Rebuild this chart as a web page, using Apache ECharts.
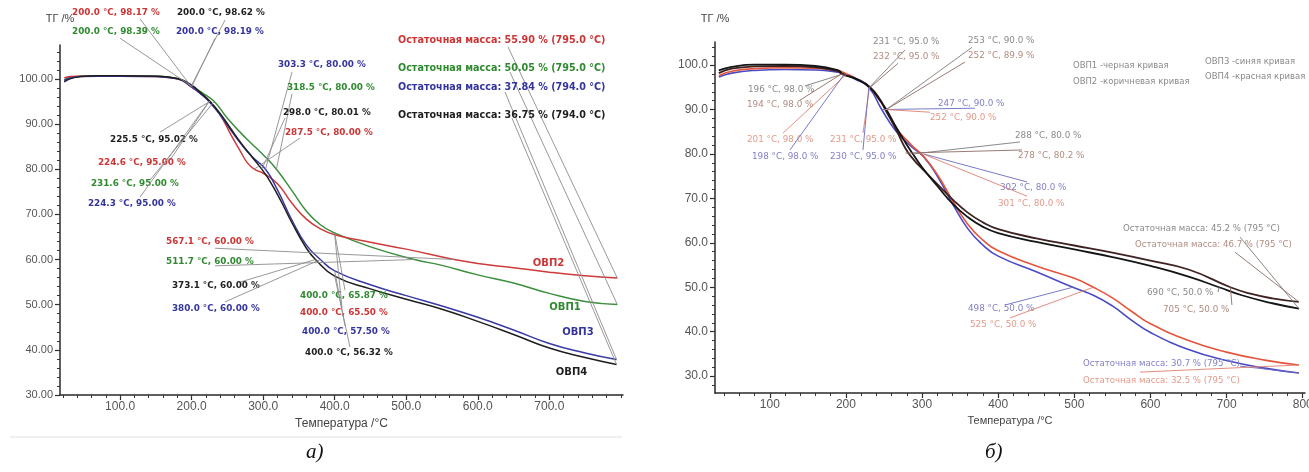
<!DOCTYPE html>
<html><head><meta charset="utf-8">
<script src="https://cdn.jsdelivr.net/npm/echarts@6/dist/echarts.min.js"></script>
<style>html,body{margin:0;padding:0;background:#fff}#c{width:1309px;height:472px}</style>
</head><body><div id="c"></div>
<script>
// ---------- Panel a) data ----------
const aTicksX = [100, 200, 300, 400, 500, 600, 700];
const aTicksY = [30, 40, 50, 60, 70, 80, 90, 100];

const aOvp1T = [22, 30, 45, 70, 100, 150, 180, 200, 215, 231.6, 250, 275, 300, 318.5, 340, 360, 380, 400, 450, 511.7, 550, 600, 650, 700, 750, 795];
const aOvp1V = [99.8, 100.3, 100.6, 100.7, 100.7, 100.6, 100.1, 98.39, 96.9, 95.0, 91.3, 87.0, 83.2, 80.0, 75.3, 70.8, 67.7, 65.87, 62.8, 60.0, 58.7, 56.6, 54.8, 52.5, 50.7, 50.05];

const aOvp2T = [22, 30, 45, 70, 100, 150, 180, 200, 212, 224.6, 240, 255, 268, 278, 287.5, 300, 320, 340, 360, 380, 400, 450, 500, 567.1, 600, 650, 700, 750, 795];
const aOvp2V = [100.2, 100.5, 100.6, 100.6, 100.6, 100.5, 100.0, 98.17, 96.8, 95.0, 92.0, 87.6, 84.0, 81.4, 80.0, 79.1, 76.8, 72.5, 69.0, 66.8, 65.5, 63.8, 62.3, 60.0, 59.1, 58.2, 57.2, 56.4, 55.9];

const aOvp3T = [22, 30, 45, 70, 100, 150, 180, 200, 212, 224.3, 240, 255, 270, 285, 303.3, 320, 340, 360, 380, 400, 450, 500, 550, 600, 650, 700, 750, 794];
const aOvp3V = [99.6, 100.2, 100.5, 100.6, 100.6, 100.5, 100.0, 98.19, 96.8, 95.0, 92.0, 88.6, 85.4, 82.7, 80.0, 75.4, 68.8, 63.3, 60.0, 57.5, 54.4, 52.0, 49.7, 47.2, 44.4, 41.4, 39.3, 37.84];

const aOvp4T = [22, 30, 45, 70, 100, 150, 180, 200, 212, 225.5, 240, 255, 270, 285, 298, 310, 325, 340, 360, 373.1, 400, 450, 500, 550, 600, 650, 700, 750, 794];
const aOvp4V = [99.3, 100.0, 100.5, 100.7, 100.7, 100.6, 100.1, 98.62, 97.0, 95.02, 92.3, 88.9, 85.6, 82.6, 80.01, 77.2, 72.9, 68.2, 62.6, 60.0, 56.32, 53.5, 51.2, 49.0, 46.3, 43.4, 40.4, 38.3, 36.75];

// annotations of panel a (series key, temperature, mass %, kind)
const aAnnSeries = ['r','k','g','b', 'b','g','k','r', 'k','r','g','b', 'r','g','b','k', 'r','g','k','b', 'g','r','b','k'];
const aAnnTemp = [200,200,200,200, 303.3,318.5,298.0,287.5, 225.5,224.6,231.6,224.3, 795,795,794,794, 567.1,511.7,373.1,380.0, 400,400,400,400];
const aAnnPct = [98.17,98.62,98.39,98.19, 80.00,80.00,80.01,80.00, 95.02,95.00,95.00,95.00, 55.90,50.05,37.84,36.75, 60.00,60.00,60.00,60.00, 65.87,65.50,57.50,56.32];
const aAnnResidual = [0,0,0,0, 0,0,0,0, 0,0,0,0, 1,1,1,1, 0,0,0,0, 0,0,0,0];
const aNames = ['ОВП2', 'ОВП1', 'ОВП3', 'ОВП4'];
const aNameSeries = ['r', 'g', 'b', 'k'];

// ---------- Panel б) data ----------
const bTicksX = [100, 200, 300, 400, 500, 600, 700, 800];
const bTicksY = [30, 40, 50, 60, 70, 80, 90, 100];

const bOvp1T = [33, 50, 80, 120, 160, 190, 196, 215, 231, 245, 253, 265, 278, 288, 300, 320, 340, 360, 380, 400, 450, 500, 550, 600, 650, 690, 720, 760, 795];
const bOvp1V = [98.8, 99.6, 100.1, 100.1, 99.8, 98.8, 98.0, 96.8, 95.0, 92.0, 90.0, 86.3, 82.6, 80.0, 77.0, 72.8, 68.8, 65.8, 63.6, 62.2, 60.2, 58.5, 56.8, 54.8, 52.4, 50.0, 48.2, 46.4, 45.2];

const bOvp2T = [33, 50, 80, 120, 160, 190, 194, 215, 232, 245, 252, 265, 278, 290, 300, 320, 340, 360, 380, 400, 450, 500, 550, 600, 650, 705, 730, 760, 795];
const bOvp2V = [98.2, 99.2, 99.7, 99.8, 99.5, 98.6, 98.0, 96.8, 95.0, 92.2, 89.9, 85.8, 81.3, 78.5, 76.7, 73.2, 69.8, 66.8, 64.6, 63.1, 61.0, 59.4, 57.8, 56.0, 54.0, 50.0, 48.6, 47.5, 46.7];

const bOvp3T = [33, 50, 80, 120, 160, 190, 198, 215, 230, 247, 265, 285, 302, 320, 340, 360, 380, 400, 450, 498, 525, 550, 575, 600, 650, 700, 750, 795];
const bOvp3V = [97.3, 98.2, 98.8, 99.0, 98.9, 98.4, 98.0, 96.6, 95.0, 90.0, 85.3, 81.8, 79.4, 75.0, 68.8, 63.2, 59.5, 57.0, 53.5, 50.0, 48.2, 45.8, 42.6, 39.8, 36.0, 33.5, 31.8, 30.7];

const bOvp4T = [33, 50, 80, 120, 160, 190, 201, 215, 231, 252, 265, 285, 301, 320, 340, 360, 380, 400, 450, 500, 525, 550, 575, 600, 650, 700, 750, 795];
const bOvp4V = [97.6, 98.6, 99.2, 99.4, 99.3, 98.7, 98.0, 96.8, 95.0, 90.0, 86.0, 82.2, 79.6, 75.4, 69.5, 64.2, 60.6, 58.2, 54.8, 52.0, 50.0, 47.6, 44.6, 41.8, 38.0, 35.4, 33.6, 32.5];

const bAnnSeries = ['k','n','r','b', 'k','n','r','b', 'k','n','b','r', 'k','n','b','r', 'k','n','k','n','b','r','b','r'];
const bAnnTemp = [196,194,201,198, 231,232,231,230, 253,252,247,252, 288,278,302,301, 795,795,690,705,498,525,795,795];
const bAnnPct = [98.0,98.0,98.0,98.0, 95.0,95.0,95.0,95.0, 90.0,89.9,90.0,90.0, 80.0,80.2,80.0,80.0, 45.2,46.7,50.0,50.0,50.0,50.0,30.7,32.5];
const bAnnResidual = [0,0,0,0, 0,0,0,0, 0,0,0,0, 0,0,0,0, 1,1,0,0,0,0,1,1];
const bLegend = ['ОВП1 -черная кривая', 'ОВП2 -коричневая кривая', 'ОВП3 -синяя кривая', 'ОВП4 -красная кривая'];

// ---------- layout (label anchors in axis units) ----------
const aLabelAt = [[32.8,114.6],[179.5,114.6],[32.8,110.4],[178.1,110.4],[320.7,103.1],[333.3,98],[327.7,92.4],[330.5,88],[85.9,86.5],[69.1,81.4],[59.3,76.7],[55.1,72.3],[488.5,108.6],[488.5,102.4],[488.5,98],[488.5,92],[164.2,63.9],[164.2,59.5],[172.5,54.1],[172.5,49],[351.5,51.9],[351.5,48.2],[354.3,44],[358.5,39.3]];
const aLineFrom = [[127.8,113.3],[246.6,113],[99.9,109],[232.7,109],[340.3,101.5],[340.3,96.7],[330.5,91.3],[351.5,86.9],[155.8,88.2],[169.8,82],[141.8,77.6],[127.8,73.8],[642.2,107.1],[645,101.5],[638,97.1],[647.8,91.3],[232.7,62.5],[232.7,58.6],[267.6,55],[246.6,50.6],[414.4,53.2],[410.2,49.3],[414.4,45.3],[421.4,40.6]];
const aNameAt = [[677,59.2],[700,49.3],[718,43.8],[709,34.9]];

const bLabelAt = [[71.3,94.4],[70,91],[70,83.1],[76.6,79.3],[235.5,105.2],[235.5,101.8],[179,83.1],[179,79.3],[360.3,105.6],[360.3,102.2],[320.9,91.4],[310.4,88.1],[422,84],[426,79.7],[402.3,72.3],[399.7,68.9],[563.9,63.1],[579.7,59.5],[595.4,48.7],[616.4,44.9],[360.3,45.1],[362.9,41.5],[511.4,32.7],[511.4,28.9]];
const bLineFrom = [[146,95.3],[139.6,92.1],[117.3,84.7],[126.5,80.9],[277.6,103.4],[268.4,100.4],[222.4,84.7],[222.4,80.9],[365.6,104],[356.4,100.7],[369.5,90.3],[310.4,89.4],[428.6,82.7],[431.2,80.9],[437.8,73.7],[437.8,70.5],[717.6,61.3],[711,57.9],[688.7,48.9],[707,46],[408.9,46],[415.5,43.1],[717.6,32.25],[586.2,30.9]];
const bLegendAt = [[498.2,99.8],[498.2,96.2],[671.6,100.7],[671.6,97.3]];

// ---------- styles ----------
const aCurveColor = {g:'#3b8e3b', r:'#cf3a3a', b:'#3a3aa6', k:'#1e1e1e'};
const aTextColor = {g:'#2f8a2f', r:'#cc3535', b:'#34349e', k:'#1e1e1e'};
const bCurveColor = {k:'#151515', n:'#3e2222', b:'#4a4ac4', r:'#e4553c'};
const bTextColor = {k:'#8a8a8a', n:'#b08c80', b:'#8080c8', r:'#e39a8a'};
const bLineColor = {k:'#7c7c7c', n:'#8c6c62', b:'#6a6ac0', r:'#e08070'};
const FONT = '"Liberation Sans", Arial, sans-serif';
const DFONT = '"DejaVu Sans", Verdana, sans-serif';

function pairs(t, v) { return t.map((x, i) => [x, v[i]]); }
function range(a, b, s) { const r = []; for (let x = a; x <= b + 1e-9; x += s) r.push(x); return r; }

const aTexts = aAnnTemp.map((t, i) => aAnnResidual[i]
  ? `Остаточная масса: ${aAnnPct[i].toFixed(2)} % (${t.toFixed(1)} °C)`
  : `${t.toFixed(1)} °C, ${aAnnPct[i].toFixed(2)} %`);
const aFonts = aAnnResidual.map(r => r ? 'bold 9.6px ' + DFONT : 'bold 8.8px ' + DFONT);
const bTexts = bAnnTemp.map((t, i) => bAnnResidual[i]
  ? `Остаточная масса: ${bAnnPct[i].toFixed(1)} % (${t} °C)`
  : `${t} °C, ${bAnnPct[i].toFixed(1)} %`);
const bFonts = bAnnResidual.map(r => r ? '8.6px ' + DFONT : '8.8px ' + DFONT);

function annRender(labelAt, lineFrom, texts, textColors, lineColors, fonts) {
  return function (params, api) {
    const i = params.dataIndex;
    const p = api.coord([api.value(0), api.value(1)]);
    const s = api.coord(lineFrom[i]);
    const t = api.coord(labelAt[i]);
    return {
      type: 'group',
      children: [
        {type: 'line', shape: {x1: s[0], y1: s[1], x2: p[0], y2: p[1]}, style: {stroke: lineColors[i], lineWidth: 0.9}},
        {type: 'text', x: t[0], y: t[1], style: {text: texts[i], fill: textColors[i], font: fonts[i], align: 'left', verticalAlign: 'middle', textAlign: 'left', textVerticalAlign: 'middle'}}
      ]
    };
  };
}
function textRender(texts, colors, font) {
  return function (params, api) {
    const i = params.dataIndex;
    const t = api.coord([api.value(0), api.value(1)]);
    return {type: 'text', x: t[0], y: t[1], style: {text: texts[i], fill: colors[i], font: font, align: 'left', verticalAlign: 'middle', textAlign: 'left', textVerticalAlign: 'middle'}};
  };
}

function mainX(grid, min, max, ticks, fmt, labelSize, gap, nameSize) {
  return {gridIndex: grid, type: 'value', min: min, max: max, position: 'bottom',
    axisLine: {show: true, onZero: false, lineStyle: {color: '#2a2a2a', width: 1.5}},
    axisTick: {show: true, customValues: ticks, length: 5, lineStyle: {color: '#2a2a2a', width: 1.2}},
    axisLabel: {show: true, customValues: ticks, formatter: fmt, color: '#555', fontSize: labelSize, fontFamily: FONT, margin: 6},
    splitLine: {show: false},
    name: 'Температура /°C', nameLocation: 'middle', nameGap: gap,
    nameTextStyle: {color: '#444', fontSize: nameSize, fontFamily: FONT}};
}
function minorX(grid, min, max, ticks) {
  return {gridIndex: grid, type: 'value', min: min, max: max, position: 'bottom',
    axisLine: {show: false, onZero: false}, axisTick: {show: true, customValues: ticks, length: 3, lineStyle: {color: '#333', width: 1}},
    axisLabel: {show: false}, splitLine: {show: false}};
}
function mainY(grid, min, max, ticks, fmt, labelSize, gap) {
  return {gridIndex: grid, type: 'value', min: min, max: max, position: 'left',
    axisLine: {show: true, onZero: false, lineStyle: {color: '#2a2a2a', width: 1.5}},
    axisTick: {show: true, customValues: ticks, length: 5, lineStyle: {color: '#2a2a2a', width: 1.2}},
    axisLabel: {show: true, customValues: ticks, formatter: fmt, color: '#555', fontSize: labelSize, fontFamily: FONT, margin: 7},
    splitLine: {show: false},
    name: 'ТГ /%', nameLocation: 'end', nameGap: gap,
    nameTextStyle: {color: '#444', fontSize: 11, fontFamily: FONT, align: 'center'}};
}
function minorY(grid, min, max, ticks) {
  return {gridIndex: grid, type: 'value', min: min, max: max, position: 'left',
    axisLine: {show: false, onZero: false}, axisTick: {show: true, customValues: ticks, length: 3, lineStyle: {color: '#333', width: 1}},
    axisLabel: {show: false}, splitLine: {show: false}};
}

function curve(name, t, v, color, xi, yi, w) {
  return {name: name, type: 'line', xAxisIndex: xi, yAxisIndex: yi, data: pairs(t, v),
    showSymbol: false, symbol: 'none', smooth: 0.5,
    lineStyle: {color: color, width: w}, itemStyle: {color: color}, z: 3, silent: true};
}

const option = {
  animation: false,
  backgroundColor: '#fff',
  grid: [
    {left: 60, top: 45, width: 563, height: 350, containLabel: false, outerBoundsMode: 'none'},
    {left: 715, top: 42, width: 590, height: 351, containLabel: false, outerBoundsMode: 'none'}
  ],
  xAxis: [
    mainX(0, 16, 803, aTicksX, v => v.toFixed(1), 12, 19, 12),
    minorX(0, 16, 803, range(20, 800, 20)),
    mainX(1, 28, 803, bTicksX, v => String(v), 12, 22, 11),
    minorX(1, 28, 803, range(40, 800, 20))
  ],
  yAxis: [
    mainY(0, 30, 107.5, aTicksY, v => v.toFixed(2), 11, 21),
    minorY(0, 30, 107.5, range(30, 106, 2)),
    mainY(1, 26.2, 105.2, bTicksY, v => v.toFixed(1), 12, 18),
    minorY(1, 26.2, 105.2, range(28, 104, 2))
  ],
  graphic: [
    {type: 'line', shape: {x1: 10, y1: 437, x2: 622, y2: 437}, style: {stroke: '#e2e2e2', lineWidth: 1}},
    {type: 'text', left: 306, top: 442, style: {text: 'а)', font: 'italic 21px "Liberation Serif", serif', fill: '#111'}},
    {type: 'text', left: 985, top: 442, style: {text: 'б)', font: 'italic 21px "Liberation Serif", serif', fill: '#111'}}
  ],
  series: [
    curve('ОВП1', aOvp1T, aOvp1V, aCurveColor.g, 0, 0, 1.5),
    curve('ОВП2', aOvp2T, aOvp2V, aCurveColor.r, 0, 0, 1.5),
    curve('ОВП3', aOvp3T, aOvp3V, aCurveColor.b, 0, 0, 1.5),
    curve('ОВП4', aOvp4T, aOvp4V, aCurveColor.k, 0, 0, 1.5),
    {type: 'custom', name: 'annA', xAxisIndex: 0, yAxisIndex: 0, clip: false, silent: true, z: 5,
      data: pairs(aAnnTemp, aAnnPct), encode: {x: 0, y: 1},
      renderItem: annRender(aLabelAt, aLineFrom, aTexts, aAnnSeries.map(k => aTextColor[k]), aAnnSeries.map(() => '#8c8c8c'), aFonts)},
    {type: 'custom', name: 'namesA', xAxisIndex: 0, yAxisIndex: 0, clip: false, silent: true, z: 5,
      data: aNameAt, encode: {x: 0, y: 1},
      renderItem: textRender(aNames, aNameSeries.map(k => aTextColor[k]), 'bold 10px ' + DFONT)},

    curve('ОВП3 б', bOvp3T, bOvp3V, bCurveColor.b, 2, 2, 1.6),
    curve('ОВП4 б', bOvp4T, bOvp4V, bCurveColor.r, 2, 2, 1.6),
    curve('ОВП2 б', bOvp2T, bOvp2V, bCurveColor.n, 2, 2, 1.8),
    curve('ОВП1 б', bOvp1T, bOvp1V, bCurveColor.k, 2, 2, 1.8),
    {type: 'custom', name: 'annB', xAxisIndex: 2, yAxisIndex: 2, clip: false, silent: true, z: 5,
      data: pairs(bAnnTemp, bAnnPct), encode: {x: 0, y: 1},
      renderItem: annRender(bLabelAt, bLineFrom, bTexts, bAnnSeries.map(k => bTextColor[k]), bAnnSeries.map(k => bLineColor[k]), bFonts)},
    {type: 'custom', name: 'legendB', xAxisIndex: 2, yAxisIndex: 2, clip: false, silent: true, z: 5,
      data: bLegendAt, encode: {x: 0, y: 1},
      renderItem: textRender(bLegend, bLegend.map(() => '#8a8a8a'), '8.5px ' + DFONT)}
  ]
};

const chart = echarts.init(document.getElementById('c'), null, {renderer: 'canvas'});
chart.setOption(option);
</script></body></html>
